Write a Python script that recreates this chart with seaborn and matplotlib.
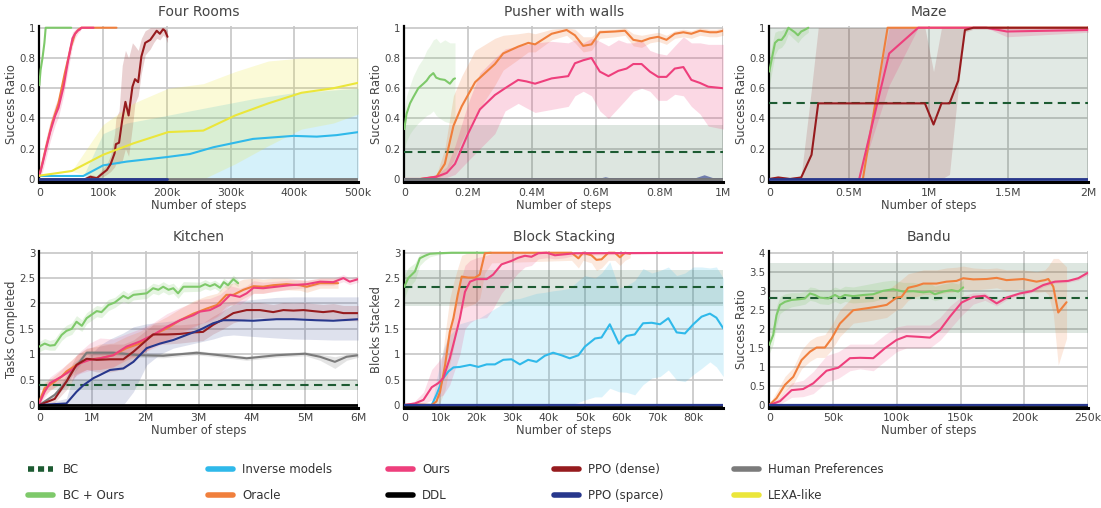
import matplotlib
matplotlib.use("Agg")
import matplotlib.pyplot as plt
from matplotlib.lines import Line2D
import seaborn as sns

sns.set_style("white")
plt.rcParams.update({
    "font.family": ["DejaVu Sans"],
    "axes.titlesize": 10,
    "axes.labelsize": 8.3,
    "text.color": "#444444",
    "axes.labelcolor": "#444444",
})

# colours
C_BC = "#1d5b32"
C_BCO = "#7ec96a"
C_INV = "#2fb9ea"
C_ORC = "#f07f3c"
C_OURS = "#ee3f7c"
C_DDL = "#000000"
C_DENSE = "#961b1e"
C_SPARSE = "#27378c"
C_HUM = "#7b7b7b"
C_LEXA = "#ebe63a"

# ---------------- Four Rooms (x in k steps) ----------------
FR_BCO_X = [0, 2, 5, 8, 10, 50]
FR_BCO_Y = [0.62, 0.72, 0.8, 0.9, 1.0, 1.0]

FR_ORC_X = [0, 10, 20, 30, 40, 50, 56, 62, 66, 121]
FR_ORC_Y = [0.02, 0.2, 0.37, 0.5, 0.7, 0.88, 0.96, 0.99, 1.0, 1.0]

FR_OURS_X = [0, 5, 10, 17, 25, 30, 38, 45, 52, 56, 60, 64, 66, 85]
FR_OURS_Y = [0.02, 0.1, 0.19, 0.31, 0.42, 0.47, 0.61, 0.78, 0.93, 0.96, 0.98, 0.99, 1.0, 1.0]
FR_OURS_LO = [0.0, 0.05, 0.13, 0.25, 0.36, 0.41, 0.55, 0.72, 0.88, 0.93, 0.96, 0.98, 1.0, 1.0]
FR_OURS_HI = [0.05, 0.16, 0.26, 0.38, 0.49, 0.54, 0.68, 0.85, 0.97, 0.99, 1.0, 1.0, 1.0, 1.0]

FR_DENSE_X = [72, 80, 90, 98, 106, 112, 118, 120, 125, 130, 135, 140, 146, 150, 155, 160, 166, 174, 179, 184, 189, 194, 197, 201]
FR_DENSE_Y = [0.0, 0.015, 0.005, 0.033, 0.06, 0.10, 0.17, 0.23, 0.24, 0.39, 0.51, 0.42, 0.61, 0.66, 0.64, 0.81, 0.90, 0.92, 0.95, 0.98, 0.96, 0.99, 0.98, 0.94]
FR_DENSE_LO = [0.0, 0.0, 0.0, 0.01, 0.03, 0.05, 0.08, 0.1, 0.1, 0.12, 0.2, 0.15, 0.35, 0.5, 0.55, 0.7, 0.82, 0.86, 0.9, 0.93, 0.92, 0.95, 0.94, 0.9]
FR_DENSE_HI = [0.01, 0.03, 0.02, 0.06, 0.1, 0.16, 0.3, 0.4, 0.45, 0.75, 0.85, 0.8, 0.9, 0.88, 0.85, 0.93, 0.98, 1.0, 1.0, 1.0, 1.0, 1.0, 1.0, 0.98]

FR_INV_X = [0, 69, 100, 137, 200, 236, 273, 335, 398, 435, 466, 500]
FR_INV_Y = [0.02, 0.02, 0.09, 0.115, 0.145, 0.165, 0.21, 0.265, 0.285, 0.28, 0.29, 0.31]
FR_INV_LO = [0.02, 0.02, 0, 0, 0, 0, 0, 0, 0, 0, 0, 0]
FR_INV_HI = [0.02, 0.02, 0.3, 0.37, 0.42, 0.45, 0.48, 0.53, 0.57, 0.58, 0.59, 0.6]

FR_LEXA_X = [0, 51, 100, 147, 202, 257, 307, 359, 411, 461, 500]
FR_LEXA_Y = [0.022, 0.053, 0.16, 0.235, 0.31, 0.32, 0.42, 0.50, 0.57, 0.60, 0.636]
FR_LEXA_LO = [0.02, 0.05, 0.0, 0.0, 0.0, 0.0, 0.1, 0.22, 0.33, 0.37, 0.43]
FR_LEXA_HI = [0.022, 0.055, 0.36, 0.5, 0.6, 0.63, 0.71, 0.78, 0.8, 0.8, 0.8]

FR_SPARSE_X = [0, 200]
FR_SPARSE_Y = [0, 0]
FR_HUM_X = [0, 500]
FR_HUM_Y = [0, 0]

# ---------------- Pusher with walls (x in M steps) ----------------
PW_BC_X = [0, 1]
PW_BC_Y = [0.18, 0.18]
PW_BC_LO = [0, 0]
PW_BC_HI = [0.355, 0.355]

PW_BCO_X = [0, 0.007, 0.018, 0.028, 0.044, 0.06, 0.07, 0.08, 0.091, 0.10, 0.112, 0.127, 0.143, 0.154, 0.159]
PW_BCO_Y = [0.33, 0.43, 0.5, 0.54, 0.6, 0.63, 0.65, 0.68, 0.70, 0.67, 0.66, 0.655, 0.63, 0.66, 0.665]
PW_BCO_LO = [0.2, 0.25, 0.3, 0.33, 0.37, 0.4, 0.42, 0.43, 0.45, 0.42, 0.4, 0.38, 0.37, 0.37, 0.37]
PW_BCO_HI = [0.45, 0.55, 0.62, 0.68, 0.75, 0.8, 0.85, 0.88, 0.92, 0.93, 0.9, 0.92, 0.9, 0.9, 0.9]

PW_ORC_X = [0, 0.05, 0.101, 0.127, 0.154, 0.18, 0.222, 0.284, 0.31, 0.357, 0.389, 0.41, 0.462, 0.509, 0.535, 0.561, 0.587, 0.613, 0.66, 0.692, 0.718, 0.744, 0.77, 0.796, 0.822, 0.848, 0.875, 0.9, 0.927, 0.958, 0.979, 1.0]
PW_ORC_Y = [0, 0, 0.015, 0.10, 0.35, 0.48, 0.64, 0.76, 0.83, 0.875, 0.90, 0.89, 0.96, 0.985, 0.95, 0.88, 0.89, 0.97, 0.975, 0.98, 0.92, 0.91, 0.93, 0.94, 0.92, 0.96, 0.97, 0.96, 0.98, 0.97, 0.97, 0.98]
PW_ORC_LO = [0, 0, 0, 0.03, 0.12, 0.25, 0.42, 0.62, 0.72, 0.79, 0.84, 0.84, 0.92, 0.95, 0.9, 0.84, 0.85, 0.93, 0.94, 0.95, 0.88, 0.87, 0.9, 0.91, 0.89, 0.93, 0.94, 0.93, 0.95, 0.94, 0.94, 0.95]
PW_ORC_HI = [0, 0, 0.03, 0.2, 0.55, 0.68, 0.85, 0.93, 0.95, 0.96, 0.97, 0.96, 0.99, 1.0, 0.99, 0.94, 0.94, 0.99, 0.99, 1.0, 0.96, 0.95, 0.96, 0.97, 0.95, 0.98, 0.99, 0.98, 1.0, 0.99, 0.99, 1.0]

PW_OURS_X = [0, 0.05, 0.101, 0.133, 0.159, 0.2, 0.237, 0.284, 0.316, 0.357, 0.383, 0.41, 0.462, 0.514, 0.535, 0.561, 0.587, 0.613, 0.64, 0.671, 0.697, 0.718, 0.744, 0.77, 0.796, 0.822, 0.848, 0.875, 0.9, 0.927, 0.953, 1.0]
PW_OURS_Y = [0, 0, 0.015, 0.04, 0.10, 0.3, 0.46, 0.555, 0.6, 0.655, 0.645, 0.63, 0.665, 0.68, 0.765, 0.785, 0.80, 0.71, 0.68, 0.715, 0.73, 0.76, 0.76, 0.71, 0.675, 0.675, 0.73, 0.74, 0.655, 0.635, 0.61, 0.60]
PW_OURS_LO = [0, 0, 0, 0.01, 0.03, 0.12, 0.2, 0.3, 0.45, 0.5, 0.47, 0.44, 0.46, 0.48, 0.55, 0.58, 0.55, 0.45, 0.4, 0.47, 0.53, 0.58, 0.6, 0.58, 0.52, 0.52, 0.56, 0.55, 0.48, 0.43, 0.35, 0.33]
PW_OURS_HI = [0, 0, 0.03, 0.08, 0.22, 0.5, 0.7, 0.8, 0.86, 0.88, 0.89, 0.9, 0.91, 0.9, 0.92, 0.9, 0.93, 0.91, 0.88, 0.92, 0.9, 0.9, 0.92, 0.85, 0.83, 0.82, 0.88, 0.94, 0.9, 0.9, 0.89, 0.89]

PW_SPARSE_X = [0, 0.6, 0.63, 0.66, 0.9, 0.94, 0.98, 1.0]
PW_SPARSE_Y = [0, 0, 0, 0, 0, 0, 0, 0]
PW_SPARSE_HI = [0, 0, 0.015, 0, 0, 0.028, 0, 0]
PW_HUM_X = [0, 1]
PW_HUM_Y = [0, 0]

# ---------------- Maze (x in M steps) ----------------
MZ_BC_X = [0, 2]
MZ_BC_Y = [0.5, 0.5]
MZ_BC_LO = [0, 0]
MZ_BC_HI = [1, 1]

MZ_BCO_X = [0, 0.015, 0.036, 0.056, 0.077, 0.098, 0.12, 0.14, 0.16, 0.18, 0.2, 0.22, 0.245]
MZ_BCO_Y = [0.71, 0.79, 0.9, 0.92, 0.92, 0.95, 1.0, 0.985, 0.97, 0.95, 0.975, 0.985, 1.0]
MZ_BCO_LO = [0.62, 0.7, 0.82, 0.86, 0.87, 0.9, 0.96, 0.94, 0.92, 0.9, 0.93, 0.95, 0.97]
MZ_BCO_HI = [0.8, 0.88, 0.97, 0.98, 0.98, 1.0, 1.0, 1.0, 1.0, 1.0, 1.0, 1.0, 1.0]

MZ_DENSE_X = [0, 0.056, 0.13, 0.2, 0.265, 0.307, 0.976, 1.03, 1.08, 1.13, 1.185, 1.227, 1.28, 2.0]
MZ_DENSE_Y = [0, 0.01, 0, 0.01, 0.16, 0.5, 0.5, 0.36, 0.5, 0.5, 0.65, 0.985, 1.0, 1.0]
MZ_DENSE_LO = [0, 0, 0, 0, 0, 0, 0, 0, 0, 0.03, 0.6, 0.97, 0.99, 0.99]
MZ_DENSE_HI = [0.01, 0.02, 0.01, 0.02, 0.6, 1, 1, 0.71, 1, 1, 1, 1, 1, 1]

MZ_ORC_X = [0.587, 0.742, 2.0]
MZ_ORC_Y = [0, 1.0, 1.0]

MZ_OURS_X = [0.564, 0.752, 0.934, 1.36, 1.49, 2.0]
MZ_OURS_Y = [0, 0.83, 1.0, 1.0, 0.975, 0.985]
MZ_OURS_LO = [0, 0.62, 1.0, 1.0, 0.94, 0.97]
MZ_OURS_HI = [0, 1.0, 1.0, 1.0, 1.0, 1.0]

MZ_SPARSE_X = [0, 2]
MZ_SPARSE_Y = [0, 0]

# ---------------- Kitchen (x in M steps) ----------------
KT_BC_X = [0, 6]
KT_BC_Y = [0.4, 0.4]
KT_BC_LO = [0.3, 0.3]
KT_BC_HI = [0.5, 0.5]

KT_BCO_X = [0, 0.1, 0.2, 0.29, 0.42, 0.51, 0.61, 0.7, 0.8, 0.89, 1.08, 1.17, 1.3, 1.42, 1.58, 1.67, 1.77, 2.02, 2.14, 2.24, 2.33, 2.43, 2.52, 2.61, 2.71, 3.02, 3.12, 3.21, 3.3, 3.4, 3.47, 3.55, 3.65, 3.74]
KT_BCO_Y = [1.15, 1.21, 1.17, 1.18, 1.38, 1.46, 1.5, 1.64, 1.56, 1.71, 1.85, 1.83, 1.97, 2.02, 2.15, 2.1, 2.17, 2.2, 2.3, 2.27, 2.33, 2.27, 2.3, 2.2, 2.33, 2.33, 2.38, 2.34, 2.38, 2.31, 2.42, 2.36, 2.48, 2.4]
KT_BCO_LO = [1.05, 1.1, 1.08, 1.08, 1.27, 1.35, 1.39, 1.52, 1.45, 1.6, 1.74, 1.72, 1.86, 1.92, 2.04, 2.0, 2.07, 2.1, 2.2, 2.17, 2.23, 2.17, 2.2, 2.1, 2.23, 2.24, 2.29, 2.26, 2.3, 2.23, 2.33, 2.28, 2.4, 2.33]
KT_BCO_HI = [1.25, 1.31, 1.27, 1.3, 1.49, 1.57, 1.62, 1.76, 1.68, 1.82, 1.96, 1.94, 2.08, 2.12, 2.26, 2.2, 2.27, 2.3, 2.4, 2.37, 2.43, 2.37, 2.4, 2.3, 2.43, 2.42, 2.47, 2.42, 2.46, 2.39, 2.5, 2.44, 2.56, 2.47]

KT_HUM_X = [0, 0.29, 0.51, 0.64, 0.76, 0.89, 1.39, 1.89, 2.33, 2.96, 3.4, 3.9, 4.46, 5.0, 5.28, 5.56, 5.78, 6.0]
KT_HUM_Y = [0, 0.2, 0.46, 0.72, 0.85, 1.03, 1.03, 0.98, 0.97, 1.03, 0.98, 0.92, 0.98, 1.01, 0.95, 0.85, 0.95, 0.98]
KT_HUM_LO = [0, 0.15, 0.38, 0.62, 0.77, 0.98, 0.99, 0.94, 0.93, 0.99, 0.94, 0.88, 0.94, 0.97, 0.88, 0.72, 0.88, 0.94]
KT_HUM_HI = [0, 0.25, 0.54, 0.82, 0.93, 1.07, 1.07, 1.02, 1.01, 1.07, 1.02, 0.96, 1.02, 1.05, 1.0, 0.95, 1.0, 1.02]

KT_ORC_X = [0, 0.1, 0.2, 0.29, 0.42, 0.51, 0.7, 0.89, 1.14, 1.39, 1.64, 1.89, 2.14, 2.4, 2.65, 2.9, 3.15, 3.34, 3.52, 3.65, 3.84, 4.03, 4.21, 4.4, 4.65, 4.9, 5.03, 5.28, 5.53, 5.62]
KT_ORC_Y = [0.07, 0.33, 0.39, 0.46, 0.56, 0.66, 0.79, 0.89, 0.92, 0.98, 1.12, 1.21, 1.38, 1.51, 1.67, 1.8, 1.9, 1.97, 2.17, 2.17, 2.27, 2.34, 2.33, 2.36, 2.38, 2.36, 2.33, 2.4, 2.4, 2.4]
KT_ORC_LO = [0, 0.2, 0.28, 0.35, 0.43, 0.52, 0.62, 0.7, 0.7, 0.75, 0.88, 0.98, 1.15, 1.28, 1.43, 1.55, 1.65, 1.75, 1.95, 1.97, 2.1, 2.2, 2.2, 2.24, 2.27, 2.26, 2.22, 2.3, 2.3, 2.3]
KT_ORC_HI = [0.15, 0.45, 0.5, 0.58, 0.7, 0.8, 0.98, 1.1, 1.2, 1.22, 1.35, 1.45, 1.6, 1.74, 1.9, 2.05, 2.15, 2.2, 2.38, 2.4, 2.48, 2.5, 2.48, 2.5, 2.5, 2.47, 2.45, 2.5, 2.5, 2.49]

KT_OURS_X = [0, 0.1, 0.2, 0.42, 0.61, 0.76, 0.95, 1.14, 1.39, 1.64, 1.89, 2.14, 2.4, 2.65, 2.9, 3.02, 3.21, 3.4, 3.59, 3.77, 3.9, 4.03, 4.21, 4.46, 4.71, 5.03, 5.28, 5.53, 5.72, 5.84, 6.0]
KT_OURS_Y = [0.03, 0.26, 0.43, 0.56, 0.69, 0.82, 0.89, 0.92, 0.98, 1.15, 1.25, 1.38, 1.54, 1.67, 1.77, 1.84, 1.87, 1.97, 2.17, 2.13, 2.2, 2.31, 2.3, 2.33, 2.36, 2.38, 2.43, 2.42, 2.5, 2.43, 2.48]
KT_OURS_LO = [0, 0.15, 0.3, 0.42, 0.52, 0.62, 0.68, 0.7, 0.75, 0.9, 1.0, 1.12, 1.25, 1.4, 1.52, 1.6, 1.65, 1.77, 1.98, 1.98, 2.07, 2.2, 2.2, 2.24, 2.28, 2.31, 2.36, 2.36, 2.43, 2.37, 2.42]
KT_OURS_HI = [0.1, 0.4, 0.55, 0.72, 0.88, 1.05, 1.22, 1.32, 1.3, 1.4, 1.5, 1.62, 1.8, 1.92, 2.02, 2.08, 2.1, 2.18, 2.35, 2.3, 2.35, 2.45, 2.42, 2.44, 2.46, 2.46, 2.5, 2.5, 2.57, 2.5, 2.54]

KT_DENSE_X = [0, 0.29, 0.51, 0.7, 0.89, 1.08, 1.33, 1.58, 1.77, 2.02, 2.14, 2.4, 2.65, 2.9, 3.08, 3.27, 3.46, 3.65, 3.9, 4.15, 4.4, 4.59, 4.78, 4.97, 5.15, 5.34, 5.53, 5.72, 6.0]
KT_DENSE_Y = [0, 0.12, 0.46, 0.79, 0.91, 0.89, 0.9, 0.9, 1.05, 1.28, 1.39, 1.39, 1.4, 1.43, 1.44, 1.58, 1.69, 1.81, 1.87, 1.87, 1.83, 1.87, 1.86, 1.87, 1.85, 1.83, 1.85, 1.81, 1.81]
KT_DENSE_LO = [0, 0.05, 0.3, 0.6, 0.7, 0.65, 0.65, 0.7, 0.85, 1.08, 1.2, 1.2, 1.22, 1.25, 1.27, 1.4, 1.5, 1.62, 1.7, 1.72, 1.68, 1.72, 1.71, 1.72, 1.7, 1.68, 1.7, 1.66, 1.66]
KT_DENSE_HI = [0, 0.2, 0.6, 0.98, 1.12, 1.15, 1.2, 1.2, 1.28, 1.48, 1.58, 1.58, 1.58, 1.6, 1.62, 1.75, 1.86, 1.98, 2.02, 2.02, 1.98, 2.02, 2.01, 2.02, 2.0, 1.98, 2.0, 1.96, 1.96]

KT_SPARSE_X = [0, 0.51, 0.7, 0.83, 1.02, 1.14, 1.33, 1.58, 1.77, 2.02, 2.27, 2.52, 2.77, 3.02, 3.27, 3.46, 3.65, 4.03, 4.46, 4.78, 5.21, 5.53, 6.0]
KT_SPARSE_Y = [0, 0.03, 0.26, 0.39, 0.53, 0.59, 0.69, 0.72, 0.85, 1.12, 1.21, 1.28, 1.38, 1.48, 1.61, 1.67, 1.67, 1.66, 1.69, 1.69, 1.67, 1.66, 1.69]
KT_SPARSE_LO = [0, 0, 0, 0, 0, 0, 0, 0, 0.26, 0.79, 1.0, 1.12, 1.18, 1.24, 1.3, 1.36, 1.38, 1.35, 1.32, 1.3, 1.29, 1.28, 1.28]
KT_SPARSE_HI = [0, 0.13, 0.79, 0.9, 1.05, 1.18, 1.3, 1.42, 1.54, 1.6, 1.63, 1.66, 1.77, 1.85, 1.95, 2.02, 2.04, 2.08, 2.12, 2.13, 2.13, 2.13, 2.13]

KT_DDL_X = [0, 6]
KT_DDL_Y = [0, 0]

# ---------------- Block Stacking (x in k steps) ----------------
BS_BC_X = [0, 88.3]
BS_BC_Y = [2.32, 2.32]
BS_BC_LO = [1.95, 1.95]
BS_BC_HI = [2.65, 2.65]

BS_BCO_X = [0, 1.1, 2.95, 4.3, 5.7, 7.1, 9.4, 13.1, 24]
BS_BCO_Y = [2.33, 2.5, 2.63, 2.89, 2.94, 2.98, 2.99, 3.0, 3.0]
BS_BCO_LO = [2.1, 2.3, 2.45, 2.75, 2.85, 2.92, 2.96, 2.99, 3.0]
BS_BCO_HI = [2.55, 2.7, 2.8, 2.98, 3.0, 3.0, 3.0, 3.0, 3.0]

BS_ORC_X = [0, 2.95, 7.6, 8.9, 9.9, 11.3, 12.6, 13.6, 14.8, 15.9, 17.7, 19.6, 20.9, 22.3, 24.2, 46.3, 48.2, 49.5, 51.8, 53.2, 54.6, 56.5, 58.3, 59.7, 61.1, 62.5]
BS_ORC_Y = [0, 0.01, 0, 0.07, 0.26, 0.79, 1.44, 1.71, 2.17, 2.53, 2.51, 2.51, 2.57, 2.99, 3.0, 3.0, 2.89, 3.0, 2.95, 2.86, 2.87, 3.0, 3.0, 2.91, 3.0, 2.98]
BS_ORC_LO = [0, 0, 0, 0, 0.05, 0.3, 0.8, 1.1, 1.6, 1.9, 1.95, 2.0, 2.1, 2.6, 2.8, 2.85, 2.7, 2.85, 2.8, 2.65, 2.7, 2.85, 2.85, 2.75, 2.85, 2.9]
BS_ORC_HI = [0, 0.02, 0.02, 0.2, 0.6, 1.4, 2.1, 2.4, 2.7, 2.95, 3.0, 3.0, 3.0, 3.0, 3.0, 3.0, 3.0, 3.0, 3.0, 3.0, 3.0, 3.0, 3.0, 3.0, 3.0, 3.0]

BS_OURS_X = [0, 2.95, 5.3, 7.6, 9.4, 10.8, 12.6, 14, 15.4, 16.8, 18.2, 20, 22.8, 24.6, 26.9, 29.7, 31.5, 33.4, 35.2, 37.1, 39.4, 41.7, 44.5, 47.2, 88.3]
BS_OURS_Y = [0, 0.03, 0.1, 0.35, 0.43, 0.53, 0.92, 1.31, 1.71, 2.23, 2.43, 2.48, 2.48, 2.57, 2.77, 2.84, 2.9, 2.94, 2.92, 2.99, 3.0, 2.95, 2.97, 2.99, 3.0]
BS_OURS_LO = [0, 0, 0.02, 0.1, 0.15, 0.2, 0.4, 0.7, 1.0, 1.5, 1.62, 1.7, 1.72, 1.9, 2.2, 2.45, 2.6, 2.72, 2.75, 2.88, 2.9, 2.88, 2.9, 2.95, 3.0]
BS_OURS_HI = [0, 0.08, 0.25, 0.7, 0.85, 1.0, 1.5, 1.95, 2.4, 2.75, 2.85, 2.9, 2.95, 3.0, 3.0, 3.0, 3.0, 3.0, 3.0, 3.0, 3.0, 3.0, 3.0, 3.0, 3.0]

BS_INV_X = [0, 7.6, 8.9, 10.8, 12.2, 13.6, 15.4, 18.2, 20.5, 22.8, 25.1, 27.4, 29.7, 32, 34.3, 36.6, 38.9, 41.2, 43.5, 45.8, 48.2, 50, 52.8, 54.6, 56.9, 59.4, 61.5, 63.8, 66.1, 68.5, 70.8, 73.1, 75.4, 77.7, 80, 82.3, 84.6, 86.4, 88.3]
BS_INV_Y = [0, 0, 0.2, 0.53, 0.66, 0.74, 0.75, 0.79, 0.75, 0.8, 0.8, 0.89, 0.9, 0.8, 0.89, 0.85, 0.97, 1.03, 0.98, 0.92, 0.98, 1.15, 1.31, 1.33, 1.59, 1.21, 1.36, 1.39, 1.61, 1.62, 1.59, 1.71, 1.43, 1.41, 1.59, 1.74, 1.8, 1.72, 1.51]
BS_INV_LO = [0, 0, 0, 0, 0, 0, 0, 0, 0, 0, 0, 0, 0, 0, 0, 0, 0, 0, 0, 0, 0.05, 0.1, 0.16, 0.16, 0.33, 0.26, 0.25, 0.2, 0.4, 0.53, 0.56, 0.69, 0.49, 0.46, 0.6, 0.72, 0.85, 0.75, 0.56]
BS_INV_HI = [0, 0, 0.5, 1.1, 1.35, 1.45, 1.6, 1.66, 1.7, 1.8, 1.9, 2.0, 2.08, 2.1, 2.15, 2.2, 2.22, 2.25, 2.27, 2.3, 2.45, 2.55, 2.5, 2.6, 2.82, 2.3, 2.35, 2.45, 2.69, 2.6, 2.65, 2.72, 2.55, 2.6, 2.72, 2.72, 2.7, 2.72, 2.5]

BS_SPARSE_X = [0, 88.3]
BS_SPARSE_Y = [0, 0]

# ---------------- Bandu (x in k steps) ----------------
BD_BC_X = [0, 250]
BD_BC_Y = [2.82, 2.82]
BD_BC_LO = [1.88, 1.88]
BD_BC_HI = [3.72, 3.72]

BD_BCO_X = [0, 3.1, 5.7, 8.4, 12.3, 17.5, 24, 28, 31.9, 35.8, 39.7, 46.2, 51.5, 55.4, 59.3, 65.8, 73.7, 81.5, 89.3, 97.2, 105, 112.9, 120.7, 125.9, 129.8, 136.4, 142.9, 148.1, 152]
BD_BCO_Y = [1.58, 1.84, 2.36, 2.63, 2.71, 2.76, 2.78, 2.8, 2.93, 2.89, 2.82, 2.8, 2.89, 2.82, 2.89, 2.86, 2.89, 2.91, 3.0, 3.04, 2.98, 2.99, 2.96, 2.98, 2.91, 2.98, 3.02, 2.98, 3.09]
BD_BCO_LO = [1.35, 1.6, 2.1, 2.4, 2.5, 2.58, 2.62, 2.65, 2.75, 2.72, 2.66, 2.64, 2.72, 2.66, 2.72, 2.68, 2.7, 2.72, 2.8, 2.84, 2.78, 2.8, 2.78, 2.8, 2.74, 2.8, 2.84, 2.8, 2.9]
BD_BCO_HI = [1.8, 2.1, 2.6, 2.85, 2.92, 2.95, 2.95, 2.98, 3.1, 3.08, 3.02, 3.0, 3.1, 3.05, 3.12, 3.1, 3.15, 3.2, 3.25, 3.28, 3.22, 3.22, 3.18, 3.2, 3.12, 3.18, 3.22, 3.18, 3.28]

BD_ORC_X = [0, 5.7, 12.3, 18.8, 25.3, 31.9, 37.1, 43.6, 48.9, 55.4, 65.8, 76.3, 84.1, 92, 99.8, 103.7, 108.9, 115.5, 120.7, 131.1, 138.9, 146.8, 152, 159.9, 170.3, 178.2, 186, 199, 209.5, 216, 218.7, 222.6, 226.5, 233]
BD_ORC_Y = [0, 0.18, 0.53, 0.74, 1.18, 1.4, 1.51, 1.51, 1.75, 2.14, 2.49, 2.54, 2.58, 2.63, 2.82, 2.84, 3.08, 3.13, 3.19, 3.19, 3.24, 3.26, 3.33, 3.3, 3.31, 3.34, 3.28, 3.31, 3.24, 3.28, 3.31, 3.11, 2.43, 2.7]
BD_ORC_LO = [0, 0.05, 0.35, 0.55, 0.95, 1.15, 1.25, 1.25, 1.45, 1.8, 2.15, 2.2, 2.25, 2.3, 2.5, 2.55, 2.75, 2.85, 2.9, 2.9, 2.95, 2.98, 3.05, 3.02, 3.05, 3.08, 3.0, 3.05, 2.95, 2.98, 2.9, 2.4, 1.05, 1.75]
BD_ORC_HI = [0.02, 0.35, 0.75, 0.98, 1.45, 1.7, 1.8, 1.85, 2.1, 2.5, 2.85, 2.9, 2.95, 3.0, 3.2, 3.3, 3.45, 3.5, 3.55, 3.55, 3.6, 3.62, 3.65, 3.6, 3.58, 3.6, 3.55, 3.55, 3.5, 3.55, 3.65, 3.85, 3.85, 3.63]

BD_OURS_X = [0, 8.4, 17.5, 26.6, 34.5, 44.9, 54.1, 63.2, 71.1, 81.5, 90.6, 99.8, 107.6, 118, 125.9, 133.8, 141.6, 150.7, 159.9, 169, 178.2, 186, 196.4, 205.6, 214.7, 223.9, 234.3, 242.2, 250]
BD_OURS_Y = [0, 0.1, 0.39, 0.42, 0.57, 0.9, 0.98, 1.23, 1.24, 1.23, 1.49, 1.71, 1.81, 1.79, 1.77, 1.97, 2.32, 2.69, 2.84, 2.87, 2.67, 2.82, 2.93, 2.99, 3.15, 3.24, 3.26, 3.33, 3.48]
BD_OURS_LO = [0, 0.02, 0.2, 0.22, 0.3, 0.6, 0.7, 0.9, 0.95, 0.9, 1.15, 1.4, 1.5, 1.5, 1.5, 1.7, 2.0, 2.35, 2.65, 2.75, 2.6, 2.76, 2.88, 2.95, 3.1, 3.2, 3.22, 3.28, 3.42]
BD_OURS_HI = [0.02, 0.2, 0.58, 0.65, 0.88, 1.3, 1.4, 1.6, 1.6, 1.6, 1.85, 2.05, 2.1, 2.1, 2.1, 2.3, 2.6, 2.85, 2.95, 2.95, 2.75, 2.88, 2.98, 3.04, 3.2, 3.28, 3.3, 3.38, 3.53]

BD_SPARSE_X = [0, 250]
BD_SPARSE_Y = [0, 0]


def band(ax, x, lo, hi, color, alpha=0.2):
    ax.fill_between(x, lo, hi, color=color, alpha=alpha, linewidth=0, zorder=1)


def line(ax, x, y, color, lw=1.5, dashed=False):
    sns.lineplot(x=x, y=y, ax=ax, color=color, linewidth=lw, legend=False, zorder=3)
    if dashed:
        ax.lines[-1].set_dashes((4, 2.6))


def setup(ax, title, ylabel, xlim, ylim, xticks, xlabels, yticks):
    ax.set_xlim(*xlim)
    ax.set_ylim(*ylim)
    ax.set_xticks(xticks, xlabels)
    ax.set_yticks(yticks, [f"{v:g}" for v in yticks])
    ax.grid(True, color="#c6c6c6", linewidth=1.2)
    ax.set_axisbelow(True)
    for s in ["top", "right"]:
        ax.spines[s].set_visible(False)
    ax.spines["left"].set_color("black")
    ax.spines["left"].set_linewidth(1.6)
    ax.spines["bottom"].set_color("black")
    ax.spines["bottom"].set_linewidth(2.2)
    ax.tick_params(axis="x", length=0, pad=4, labelsize=7.8, colors="#444444")
    ax.tick_params(axis="y", length=0, pad=3, labelsize=7.3, colors="#444444")
    ax.set_title(title, color="#444444", pad=7)
    ax.set_xlabel("Number of steps", labelpad=1)
    ax.set_ylabel(ylabel, labelpad=0.5)


fig = plt.figure(figsize=(11.01, 5.08), dpi=100)
COLS = [0.0357, 0.3672, 0.6987]
W = 0.2897
ax_fr = fig.add_axes([COLS[0], 0.6417, W, 0.3067])
ax_pw = fig.add_axes([COLS[1], 0.6417, W, 0.3067])
ax_mz = fig.add_axes([COLS[2], 0.6417, W, 0.3067])
ax_kt = fig.add_axes([COLS[0], 0.1978, W, 0.3077])
ax_bs = fig.add_axes([COLS[1], 0.1978, W, 0.3077])
ax_bd = fig.add_axes([COLS[2], 0.1978, W, 0.3077])

# Four Rooms
ax = ax_fr
band(ax, FR_INV_X, FR_INV_LO, FR_INV_HI, C_INV)
band(ax, FR_OURS_X, FR_OURS_LO, FR_OURS_HI, C_OURS)
band(ax, FR_DENSE_X, FR_DENSE_LO, FR_DENSE_HI, C_DENSE)
band(ax, FR_LEXA_X, FR_LEXA_LO, FR_LEXA_HI, C_LEXA)
line(ax, FR_BCO_X, FR_BCO_Y, C_BCO)
line(ax, FR_INV_X, FR_INV_Y, C_INV)
line(ax, FR_ORC_X, FR_ORC_Y, C_ORC)
line(ax, FR_OURS_X, FR_OURS_Y, C_OURS)
line(ax, FR_DENSE_X, FR_DENSE_Y, C_DENSE)
line(ax, FR_HUM_X, FR_HUM_Y, C_HUM, lw=2)
line(ax, FR_SPARSE_X, FR_SPARSE_Y, C_SPARSE, lw=2)
line(ax, FR_LEXA_X, FR_LEXA_Y, C_LEXA)
setup(ax, "Four Rooms", "Success Ratio", (0, 500), (-0.02, 1.01),
      [0, 100, 200, 300, 400, 500], ["0", "100k", "200k", "300k", "400k", "500k"],
      [0, 0.2, 0.4, 0.6, 0.8, 1])

# Pusher with walls
ax = ax_pw
band(ax, PW_BC_X, PW_BC_LO, PW_BC_HI, C_BC, alpha=0.15)
band(ax, PW_BCO_X, PW_BCO_LO, PW_BCO_HI, C_BCO, alpha=0.15)
band(ax, PW_ORC_X, PW_ORC_LO, PW_ORC_HI, C_ORC)
band(ax, PW_OURS_X, PW_OURS_LO, PW_OURS_HI, C_OURS)
band(ax, PW_SPARSE_X, PW_SPARSE_Y, PW_SPARSE_HI, C_SPARSE, alpha=0.6)
line(ax, PW_BC_X, PW_BC_Y, C_BC, dashed=True)
line(ax, PW_BCO_X, PW_BCO_Y, C_BCO)
line(ax, PW_ORC_X, PW_ORC_Y, C_ORC)
line(ax, PW_OURS_X, PW_OURS_Y, C_OURS)
line(ax, PW_SPARSE_X, PW_SPARSE_Y, C_SPARSE, lw=2)
line(ax, PW_HUM_X, PW_HUM_Y, C_HUM, lw=2)
setup(ax, "Pusher with walls", "Success Ratio", (0, 1), (-0.02, 1.01),
      [0, 0.2, 0.4, 0.6, 0.8, 1], ["0", "0.2M", "0.4M", "0.6M", "0.8M", "1M"],
      [0, 0.2, 0.4, 0.6, 0.8, 1])

# Maze
ax = ax_mz
band(ax, MZ_BC_X, MZ_BC_LO, MZ_BC_HI, C_BC, alpha=0.13)
band(ax, MZ_BCO_X, MZ_BCO_LO, MZ_BCO_HI, C_BCO, alpha=0.2)
band(ax, MZ_DENSE_X, MZ_DENSE_LO, MZ_DENSE_HI, C_DENSE, alpha=0.15)
band(ax, MZ_OURS_X, MZ_OURS_LO, MZ_OURS_HI, C_OURS, alpha=0.2)
line(ax, MZ_BC_X, MZ_BC_Y, C_BC, dashed=True)
line(ax, MZ_BCO_X, MZ_BCO_Y, C_BCO)
line(ax, MZ_ORC_X, MZ_ORC_Y, C_ORC)
line(ax, MZ_OURS_X, MZ_OURS_Y, C_OURS)
line(ax, MZ_DENSE_X, MZ_DENSE_Y, C_DENSE)
line(ax, MZ_SPARSE_X, MZ_SPARSE_Y, C_SPARSE, lw=2)
setup(ax, "Maze", "Success Ratio", (0, 2), (-0.02, 1.01),
      [0, 0.5, 1, 1.5, 2], ["0", "0.5M", "1M", "1.5M", "2M"],
      [0, 0.2, 0.4, 0.6, 0.8, 1])

# Kitchen
ax = ax_kt
band(ax, KT_BC_X, KT_BC_LO, KT_BC_HI, C_BC, alpha=0.15)
band(ax, KT_BCO_X, KT_BCO_LO, KT_BCO_HI, C_BCO, alpha=0.2)
band(ax, KT_SPARSE_X, KT_SPARSE_LO, KT_SPARSE_HI, C_SPARSE, alpha=0.15)
band(ax, KT_DENSE_X, KT_DENSE_LO, KT_DENSE_HI, C_DENSE, alpha=0.15)
band(ax, KT_ORC_X, KT_ORC_LO, KT_ORC_HI, C_ORC, alpha=0.18)
band(ax, KT_OURS_X, KT_OURS_LO, KT_OURS_HI, C_OURS, alpha=0.15)
band(ax, KT_HUM_X, KT_HUM_LO, KT_HUM_HI, C_HUM, alpha=0.2)
line(ax, KT_BC_X, KT_BC_Y, C_BC, dashed=True)
line(ax, KT_BCO_X, KT_BCO_Y, C_BCO)
line(ax, KT_HUM_X, KT_HUM_Y, C_HUM)
line(ax, KT_ORC_X, KT_ORC_Y, C_ORC)
line(ax, KT_OURS_X, KT_OURS_Y, C_OURS)
line(ax, KT_DENSE_X, KT_DENSE_Y, C_DENSE)
line(ax, KT_SPARSE_X, KT_SPARSE_Y, C_SPARSE)
line(ax, KT_DDL_X, KT_DDL_Y, C_DDL, lw=2)
setup(ax, "Kitchen", "Tasks Completed", (0, 6), (-0.05, 3.03),
      [0, 1, 2, 3, 4, 5, 6], ["0", "1M", "2M", "3M", "4M", "5M", "6M"],
      [0, 0.5, 1, 1.5, 2, 2.5, 3])

# Block Stacking
ax = ax_bs
band(ax, BS_BC_X, BS_BC_LO, BS_BC_HI, C_BC, alpha=0.15)
band(ax, BS_INV_X, BS_INV_LO, BS_INV_HI, C_INV, alpha=0.17)
band(ax, BS_BCO_X, BS_BCO_LO, BS_BCO_HI, C_BCO, alpha=0.2)
band(ax, BS_ORC_X, BS_ORC_LO, BS_ORC_HI, C_ORC, alpha=0.17)
band(ax, BS_OURS_X, BS_OURS_LO, BS_OURS_HI, C_OURS, alpha=0.17)
line(ax, BS_BC_X, BS_BC_Y, C_BC, dashed=True)
line(ax, BS_BCO_X, BS_BCO_Y, C_BCO)
line(ax, BS_INV_X, BS_INV_Y, C_INV)
line(ax, BS_ORC_X, BS_ORC_Y, C_ORC)
line(ax, BS_OURS_X, BS_OURS_Y, C_OURS)
line(ax, BS_SPARSE_X, BS_SPARSE_Y, C_DDL, lw=2)
line(ax, BS_SPARSE_X, BS_SPARSE_Y, C_SPARSE, lw=1.6)
setup(ax, "Block Stacking", "Blocks Stacked", (0, 88.3), (-0.05, 3.03),
      [0, 10, 20, 30, 40, 50, 60, 70, 80],
      ["0", "10k", "20k", "30k", "40k", "50k", "60k", "70k", "80k"],
      [0, 0.5, 1, 1.5, 2, 2.5, 3])

# Bandu
ax = ax_bd
band(ax, BD_BC_X, BD_BC_LO, BD_BC_HI, C_BC, alpha=0.15)
band(ax, BD_BCO_X, BD_BCO_LO, BD_BCO_HI, C_BCO, alpha=0.2)
band(ax, BD_ORC_X, BD_ORC_LO, BD_ORC_HI, C_ORC, alpha=0.17)
band(ax, BD_OURS_X, BD_OURS_LO, BD_OURS_HI, C_OURS, alpha=0.15)
line(ax, BD_BC_X, BD_BC_Y, C_BC, dashed=True)
line(ax, BD_BCO_X, BD_BCO_Y, C_BCO)
line(ax, BD_ORC_X, BD_ORC_Y, C_ORC)
line(ax, BD_OURS_X, BD_OURS_Y, C_OURS)
line(ax, BD_SPARSE_X, BD_SPARSE_Y, C_DDL, lw=2)
line(ax, BD_SPARSE_X, BD_SPARSE_Y, C_SPARSE, lw=1.6)
setup(ax, "Bandu", "Success Ratio", (0, 250), (-0.066, 4.04),
      [0, 50, 100, 150, 200, 250], ["0", "50k", "100k", "150k", "200k", "250k"],
      [0, 0.5, 1, 1.5, 2, 2.5, 3, 3.5, 4])

# legend: five columns of two entries
LEG_COLS = [
    (0.0257, [("BC", C_BC, True), ("BC + Ours", C_BCO, False)]),
    (0.1890, [("Inverse models", C_INV, False), ("Oracle", C_ORC, False)]),
    (0.3524, [("Ours", C_OURS, False), ("DDL", C_DDL, False)]),
    (0.5032, [("PPO (dense)", C_DENSE, False), ("PPO (sparce)", C_SPARSE, False)]),
    (0.6667, [("Human Preferences", C_HUM, False), ("LEXA-like", C_LEXA, False)]),
]
for xpos, entries in LEG_COLS:
    handles = []
    for name, col, dashed in entries:
        h = Line2D([], [], color=col, linewidth=4, label=name)
        if dashed:
            h.set_dashes((1.1, 0.7))
        handles.append(h)
    fig.legend(handles=handles, loc="center left", bbox_to_anchor=(xpos, 0.05),
               frameon=False, fontsize=8.5, handlelength=2.1, handletextpad=0.8,
               labelspacing=1.05, borderpad=0, borderaxespad=0, labelcolor="#333333")

fig.savefig("out.png", dpi=100)
